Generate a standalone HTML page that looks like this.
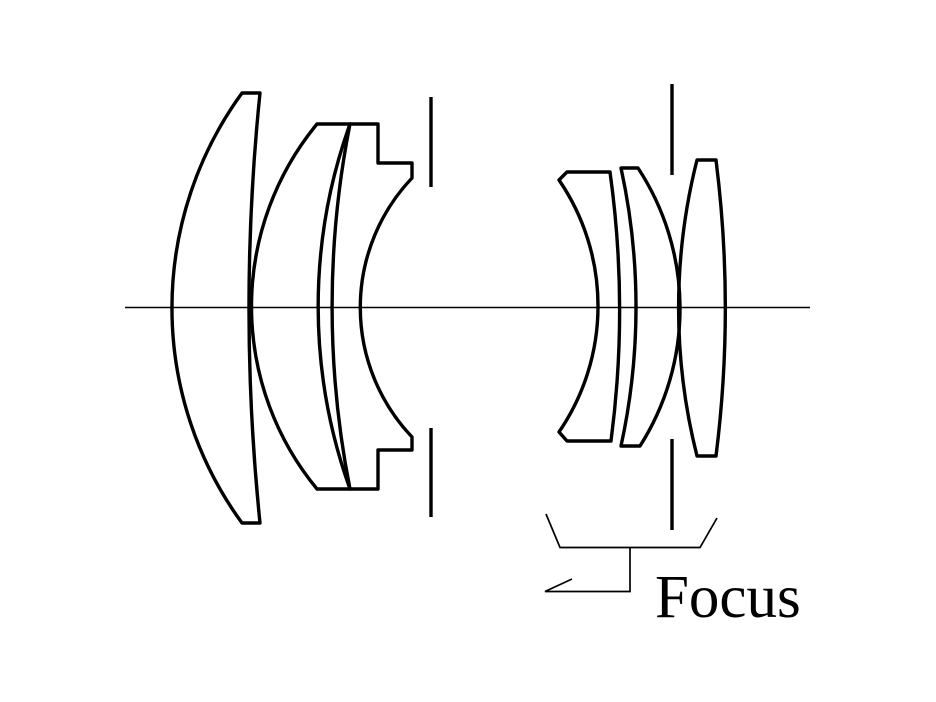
<!DOCTYPE html>
<html><head><meta charset="utf-8"><style>
html,body{margin:0;padding:0;background:#fff;}
svg{display:block;}
</style></head><body>
<svg width="936" height="702" viewBox="0 0 936 702" xmlns="http://www.w3.org/2000/svg">
<g fill="none" stroke="#000" stroke-width="3.4" stroke-linejoin="round">
<line x1="125" y1="307.5" x2="810" y2="307.5" stroke-width="1.5"/>
<path d="M242,93 L260,93 A2106,2106 0 0 0 260,523 L242,523 A365,365 0 0 1 242,93 Z"/>
<path d="M317,124 L350,124 A539,539 0 0 0 350,489 L317,489 A287,287 0 0 1 317,124 Z"/>
<path d="M350,124 L378,124 L378,163 L412,163 L412,178 A188,188 0 0 0 412,437 L412,450 L378,450 L378,489 L350,489 A939,939 0 0 1 350,124 Z"/>
<line x1="431" y1="97" x2="431" y2="187"/>
<line x1="431" y1="428" x2="431" y2="517"/>
<path d="M567,172 L610,172 A1000,1000 0 0 1 611,441 L567,441 L559,432 A223,223 0 0 0 559,180 Z"/>
<path d="M621,168 L638,168 A256,256 0 0 1 640,446 L621,446 A651,651 0 0 0 621,168 Z"/>
<path d="M697,160 L716,160 A1182,1182 0 0 1 716,456 L697,456 A604,604 0 0 1 697,160 Z"/>
<line x1="672" y1="84" x2="672" y2="175"/>
<line x1="672" y1="439" x2="672" y2="530"/>
</g>
<g fill="none" stroke="#000" stroke-width="1.7">
<polyline points="546,514 560,547.5 700,547.5 717,518"/>
<polyline points="630,547.5 630,591.5 545,591.5 572,579"/>
</g>
<text x="655" y="617" font-family="Liberation Serif, serif" font-size="61" fill="#000">Focus</text>
</svg>
</body></html>
